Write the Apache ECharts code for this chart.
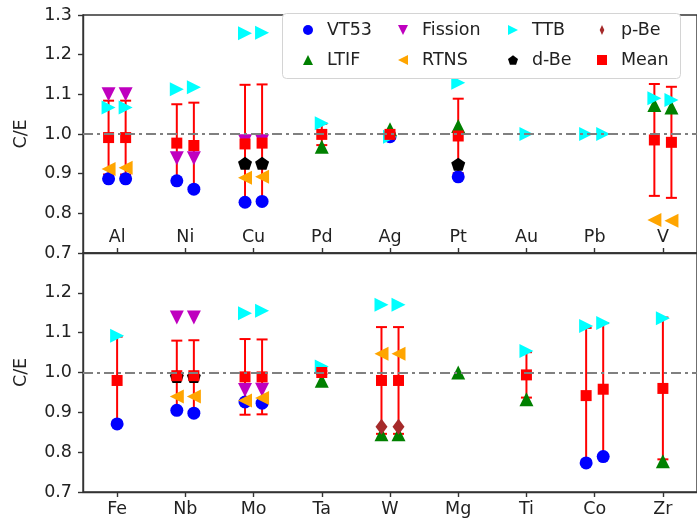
<!DOCTYPE html>
<html>
<head>
<meta charset="utf-8">
<script src="https://cdn.jsdelivr.net/npm/echarts@6/dist/echarts.min.js"></script>
<style>
  html, body { margin: 0; padding: 0; background: #fff; }
  #chart { width: 697px; height: 522px; }
</style>
</head>
<body>
<div id="chart"></div>
<script>
// Upper panel: elements and the measurement columns under each one
const topCategories = ['Al', 'Ni', 'Cu', 'Pd', 'Ag', 'Pt', 'Au', 'Pb', 'V'];
const topColCat  = ['Al', 'Al', 'Ni', 'Ni', 'Cu', 'Cu', 'Pd', 'Ag', 'Pt', 'Au', 'Pb', 'Pb', 'V', 'V'];
const topColSlot = [-1, 1, -1, 1, -1, 1, 0, 0, 0, 0, -1, 1, -1, 1];

const topVT53    = [0.887, 0.887, 0.882, 0.861, 0.828, 0.830, null, 0.993, 0.892, null, null, null, null, null];
const topLTIF    = [null, null, null, null, null, null, 0.968, 1.012, 1.020, null, null, null, 1.073, 1.067];
const topFission = [1.100, 1.100, 0.939, 0.939, 0.982, 0.982, null, null, null, null, null, null, null, null];
const topRTNS    = [0.912, 0.915, null, null, 0.890, 0.892, null, null, null, null, null, null, 0.783, 0.781];
const topTTB     = [1.067, 1.067, 1.113, 1.118, 1.254, 1.255, 1.027, 0.993, 1.129, 1.000, 1.000, 1.000, 1.090, 1.086];
const topDBe     = [null, null, null, null, 0.926, 0.926, null, null, 0.924, null, null, null, null, null];
const topPBe     = [null, null, null, null, null, null, null, null, null, null, null, null, null, null];
const topMean    = [0.991, 0.991, 0.977, 0.971, 0.975, 0.977, 0.999, 0.999, 0.995, null, null, null, 0.985, 0.979];
const topErr     = [0.093, 0.093, 0.098, 0.108, 0.149, 0.148, 0.027, 0.004, 0.094, null, null, null, 0.141, 0.140];

// Lower panel
const botCategories = ['Fe', 'Nb', 'Mo', 'Ta', 'W', 'Mg', 'Ti', 'Co', 'Zr'];
const botColCat  = ['Fe', 'Nb', 'Nb', 'Mo', 'Mo', 'Ta', 'W', 'W', 'Mg', 'Ti', 'Co', 'Co', 'Zr'];
const botColSlot = [0, -1, 1, -1, 1, 0, -1, 1, 0, 0, -1, 1, 0];

const botVT53    = [0.871, 0.905, 0.898, 0.926, 0.923, null, null, null, null, null, 0.773, 0.789, null];
const botLTIF    = [null, null, null, null, null, 0.979, 0.845, 0.845, 1.000, 0.933, null, null, 0.777];
const botFission = [null, 1.138, 1.138, 0.956, 0.957, null, null, null, null, null, null, null, null];
const botRTNS    = [null, 0.940, 0.940, 0.930, 0.936, null, 1.047, 1.047, null, null, null, null, null];
const botTTB     = [1.092, null, null, 1.149, 1.155, 1.015, 1.170, 1.170, null, 1.054, 1.117, 1.124, 1.136];
const botDBe     = [null, 0.990, 0.990, null, null, null, null, null, null, null, null, null, null];
const botPBe     = [null, null, null, null, null, null, 0.864, 0.864, null, null, null, null, null];
const botMean    = [0.980, 0.992, 0.992, 0.989, 0.989, 1.000, 0.980, 0.980, null, 0.994, 0.942, 0.958, 0.960];
const botErr     = [0.110, 0.088, 0.089, 0.095, 0.094, 0.004, 0.134, 0.134, null, 0.057, 0.170, 0.166, 0.178];

const yTicks = [0.7, 0.8, 0.9, 1.0, 1.1, 1.2, 1.3];
const REF = 1.0;
const SPREAD = 0.125;   // horizontal split between paired columns, in category units

const FONT = 'DejaVu Sans';
const TEXT = '#222';
const SPINE = '#333';
const FS = 17.5;

const PENTAGON = 'path://M0,-1L0.951,-0.309L0.588,0.809L-0.588,0.809L-0.951,-0.309Z';

const styles = {
  'VT53':    { color: '#0000ff', symbol: 'circle',   size: 13, rotate: 0,   icon: 'circle' },
  'LTIF':    { color: '#008000', symbol: 'triangle', size: 14, rotate: 0,   icon: 'triangle' },
  'Fission': { color: '#bf00bf', symbol: 'triangle', size: 14, rotate: 180, icon: 'path://M0,0L2,0L1,2Z' },
  'RTNS':    { color: '#ffa500', symbol: 'triangle', size: 14, rotate: 90,  icon: 'path://M2,0L2,2L0,1Z' },
  'TTB':     { color: '#00ffff', symbol: 'triangle', size: 14, rotate: -90, icon: 'path://M0,0L2,1L0,2Z' },
  'd-Be':    { color: '#000000', symbol: PENTAGON,   size: [14, 13], rotate: 0, icon: PENTAGON },
  'p-Be':    { color: '#a52a2a', symbol: 'diamond',  size: [12, 16], rotate: 0, icon: 'path://M1,0L1.65,1.4L1,2.8L0.35,1.4Z' },
  'Mean':    { color: '#ff0000', symbol: 'rect',     size: 11, rotate: 0,   icon: 'rect' }
};

function colX(categories, colCat, colSlot, i) {
  return categories.indexOf(colCat[i]) + colSlot[i] * SPREAD;
}

function points(categories, colCat, colSlot, values) {
  const out = [];
  values.forEach((v, i) => {
    if (v !== null) out.push([colX(categories, colCat, colSlot, i), v]);
  });
  return out;
}

function errBars(categories, colCat, colSlot, mean, err) {
  const out = [];
  mean.forEach((m, i) => {
    if (m !== null) out.push([colX(categories, colCat, colSlot, i), m - err[i], m + err[i]]);
  });
  return out;
}

function scatter(name, data, xi, yi) {
  const s = styles[name];
  return {
    name: name, type: 'scatter', xAxisIndex: xi, yAxisIndex: yi,
    data: data, symbol: s.symbol, symbolSize: s.size, symbolRotate: s.rotate,
    itemStyle: { color: s.color, opacity: 1 },
    emphasis: { disabled: true }, silent: true
  };
}

function panelSeries(p, categories, colCat, colSlot, sets) {
  const xi = p * 2, yi = p;
  const list = [];
  list.push({
    type: 'line', xAxisIndex: xi, yAxisIndex: yi, data: [], silent: true,
    markLine: {
      silent: true, symbol: 'none', label: { show: false },
      lineStyle: { color: '#808080', width: 2, type: [10, 4, 3, 4] },
      data: [{ yAxis: REF }]
    }
  });
  ['VT53', 'LTIF', 'Fission', 'RTNS', 'TTB', 'd-Be', 'p-Be'].forEach(n => {
    list.push(scatter(n, points(categories, colCat, colSlot, sets[n]), xi, yi));
  });
  list.push({
    type: 'custom', name: 'err', xAxisIndex: xi, yAxisIndex: yi, silent: true,
    data: errBars(categories, colCat, colSlot, sets.Mean, sets.Err),
    encode: { x: 0, y: [1, 2] },
    renderItem: function (params, api) {
      const x = api.value(0);
      const lo = api.coord([x, api.value(1)]);
      const hi = api.coord([x, api.value(2)]);
      const cap = 5.5;
      const st = { stroke: '#ff0000', lineWidth: 2 };
      return {
        type: 'group', children: [
          { type: 'line', shape: { x1: hi[0], y1: hi[1], x2: lo[0], y2: lo[1] }, style: st },
          { type: 'line', shape: { x1: hi[0] - cap, y1: hi[1], x2: hi[0] + cap, y2: hi[1] }, style: st },
          { type: 'line', shape: { x1: lo[0] - cap, y1: lo[1], x2: lo[0] + cap, y2: lo[1] }, style: st }
        ]
      };
    }
  });
  list.push(scatter('Mean', points(categories, colCat, colSlot, sets.Mean), xi, yi));
  return list;
}

function yAxis(gi, showMax) {
  return {
    type: 'value', gridIndex: gi, min: yTicks[0], max: yTicks[yTicks.length - 1], interval: 0.1,
    name: 'C/E', nameLocation: 'middle', nameGap: 53,
    nameTextStyle: { fontFamily: FONT, fontSize: FS, color: TEXT },
    axisLine: { show: true, onZero: false, lineStyle: { color: SPINE, width: 1.4 } },
    axisTick: { show: true, length: 5, lineStyle: { color: SPINE, width: 1.4 } },
    splitLine: { show: false },
    axisLabel: {
      margin: 11, fontFamily: FONT, fontSize: FS, color: TEXT, showMaxLabel: showMax,
      formatter: v => v.toFixed(1)
    }
  };
}

function catAxis(gi, cats, inside) {
  return {
    type: 'category', gridIndex: gi, position: 'bottom', data: cats, boundaryGap: true,
    axisLine: { show: true, onZero: false, lineStyle: { color: SPINE, width: 1.4 } },
    axisTick: { show: true, alignWithLabel: true, inside: inside, length: 5, lineStyle: { color: SPINE, width: 1.4 } },
    splitLine: { show: false },
    axisLabel: { inside: inside, margin: inside ? 7 : 8, fontFamily: FONT, fontSize: FS, color: TEXT }
  };
}

function valAxis(gi) {
  return { type: 'value', gridIndex: gi, position: 'bottom', min: -0.5, max: 8.5, show: false };
}

function legendCol(left, names) {
  return {
    data: names.map(n => ({ name: n, icon: styles[n].icon, itemStyle: { color: styles[n].color } })),
    orient: 'vertical', left: left, top: 20, padding: 0, itemGap: 10,
    itemWidth: 10, itemHeight: 10, z: 20, selectedMode: false,
    textStyle: { fontFamily: FONT, fontSize: FS, color: TEXT, lineHeight: 20, padding: [0, 0, 0, 9] }
  };
}

const chart = echarts.init(document.getElementById('chart'), null, { renderer: 'canvas' });
chart.setOption({
  animation: false,
  backgroundColor: '#ffffff',
  grid: [
    { left: 83, right: -6, top: 15, height: 238, show: true, borderColor: SPINE, borderWidth: 1.4, backgroundColor: 'transparent' },
    { left: 83, right: -6, top: 253, height: 239, show: true, borderColor: SPINE, borderWidth: 1.4, backgroundColor: 'transparent' }
  ],
  xAxis: [valAxis(0), catAxis(0, topCategories, true), valAxis(1), catAxis(1, botCategories, false)],
  yAxis: [yAxis(0, true), yAxis(1, false)],
  legend: [
    legendCol(303, ['VT53', 'LTIF']),
    legendCol(398, ['Fission', 'RTNS']),
    legendCol(508, ['TTB', 'd-Be']),
    legendCol(597, ['p-Be', 'Mean'])
  ],
  graphic: [{
    type: 'rect', left: 282, top: 13, z: 10,
    shape: { width: 398, height: 65, r: 4 },
    style: { fill: '#ffffff', stroke: '#d4d4d4', lineWidth: 1 }
  }],
  series: [].concat(
    panelSeries(0, topCategories, topColCat, topColSlot, {
      VT53: topVT53, LTIF: topLTIF, Fission: topFission, RTNS: topRTNS, TTB: topTTB,
      'd-Be': topDBe, 'p-Be': topPBe, Mean: topMean, Err: topErr
    }),
    panelSeries(1, botCategories, botColCat, botColSlot, {
      VT53: botVT53, LTIF: botLTIF, Fission: botFission, RTNS: botRTNS, TTB: botTTB,
      'd-Be': botDBe, 'p-Be': botPBe, Mean: botMean, Err: botErr
    })
  )
});
</script>
</body>
</html>
